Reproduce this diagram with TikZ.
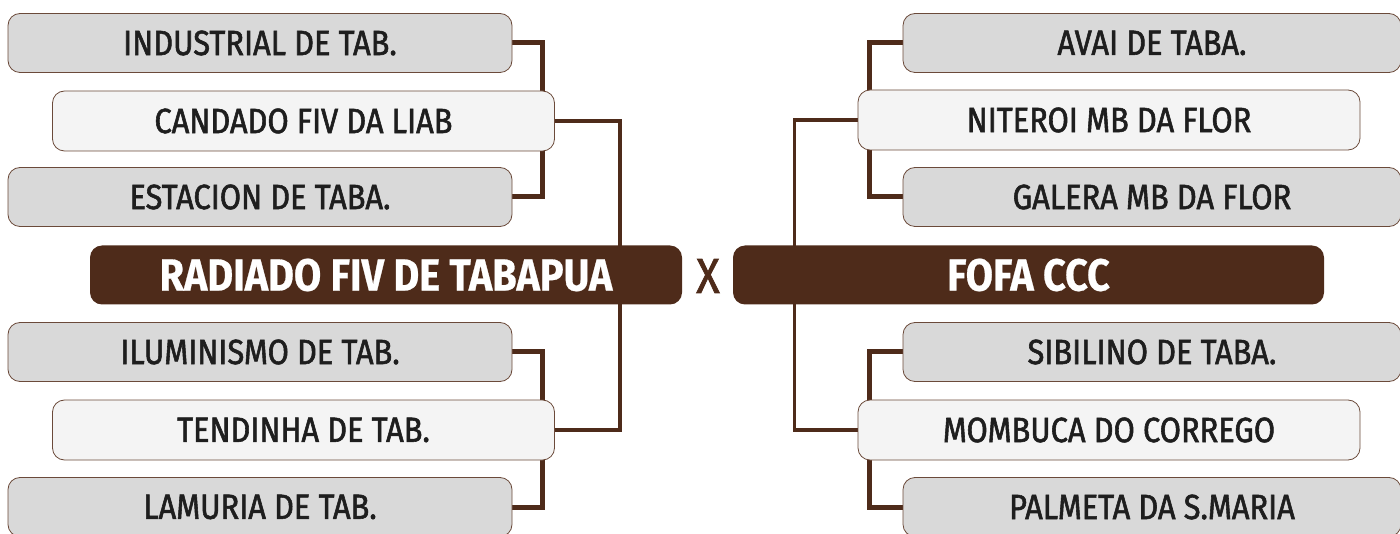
\documentclass[tikz,border=0pt]{standalone}
\usepackage{fontspec}
\setmainfont{Fira Sans}[FakeStretch=0.88, FakeBold=1.6, BoldFeatures={FakeBold=0.6}]
\usetikzlibrary{backgrounds}
\definecolor{brun}{HTML}{4E2B1A}
\definecolor{rim}{HTML}{6B4A3A}
\definecolor{cinza}{HTML}{D9D9D9}
\definecolor{claro}{HTML}{F4F4F4}
\definecolor{tinta}{HTML}{1E1E1E}

\begin{document}
\begin{tikzpicture}[x=1pt, y=-1pt,
  side/.style={draw=rim, line width=0.8pt, fill=cinza, rounded corners=12pt,
    minimum width=504pt, minimum height=59pt, inner sep=0pt, text=tinta,
    font=\fontsize{35}{37}\selectfont},
  pair/.style={side, fill=claro, minimum width=502pt, minimum height=60pt},
  champ/.style={fill=brun, rounded corners=12pt, minimum height=59pt,
    inner sep=0pt, text=white, font=\bfseries\fontsize{45}{47}\selectfont},
  link/.style={draw=brun, line width=5pt},
  trunk/.style={draw=brun, line width=3.5pt}
]
\useasboundingbox (0,0) rectangle (1400,534);

% left bracket
\node[side] (ind) at (260,43) {INDUSTRIAL DE TAB.};
\node[pair] (cand) at (303.5,121) {CANDADO FIV DA LIAB};
\node[side] (est) at (260,197) {ESTACION DE TABA.};
\node[champ, minimum width=592pt] (rad) at (386,275) {RADIADO FIV DE TABAPUA};
\node[side] (ilu) at (260,352) {ILUMINISMO DE TAB.};
\node[pair] (tend) at (303.5,430) {TENDINHA DE TAB.};
\node[side] (lam) at (260,507) {LAMURIA DE TAB.};

\node[text=brun, font=\fontsize{49}{51}\selectfont] (vs) at (708,276) {X};

% right bracket
\node[side, minimum width=498pt] (avai) at (1152,43) {AVAI DE TABA.};
\node[pair] (nit) at (1109,120) {NITEROI MB DA FLOR};
\node[side, minimum width=498pt] (gal) at (1152,197) {GALERA MB DA FLOR};
\node[champ, minimum width=591pt] (fofa) at (1028.5,275) {FOFA CCC};
\node[side, minimum width=498pt] (sib) at (1152,352) {SIBILINO DE TABA.};
\node[pair] (mom) at (1109,430) {MOMBUCA DO CORREGO};
\node[side, minimum width=498pt] (pal) at (1152,507) {PALMETA DA S.MARIA};

\begin{scope}[on background layer]
\draw[link] (ind.east) -| ([xshift=-12pt]cand.north east);
\draw[link] ([xshift=-12pt]cand.south east) |- (est.east);
\draw[link] (ilu.east) -| ([xshift=-12pt]tend.north east);
\draw[link] ([xshift=-12pt]tend.south east) |- (lam.east);
\draw[trunk] (cand.east) -- ++(65,0) |- (tend.east);

\draw[link] (avai.west) -| ([xshift=12pt]nit.north west);
\draw[link] ([xshift=12pt]nit.south west) |- (gal.west);
\draw[link] (sib.west) -| ([xshift=12pt]mom.north west);
\draw[link] ([xshift=12pt]mom.south west) |- (pal.west);
\draw[trunk] (nit.west) -- ++(-63,0) |- (mom.west);
\end{scope}
\end{tikzpicture}
\end{document}
